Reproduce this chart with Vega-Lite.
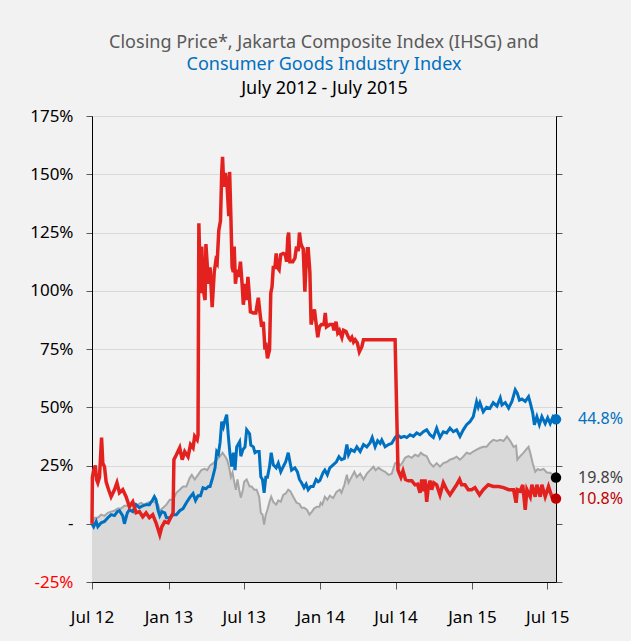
{
  "$schema": "https://vega.github.io/schema/vega-lite/v6.json",
  "width": 464,
  "height": 466,
  "autosize": {"type": "none"},
  "padding": {"left": 92, "top": 116, "right": 75, "bottom": 59},
  "background": "#f2f2f2",
  "title": {
    "text": "Closing Price*, Jakarta Composite Index (IHSG) and",
    "subtitle": "Consumer Goods Industry Index",
    "color": "#595959",
    "subtitleColor": "#0070c0",
    "font": "Noto Sans",
    "subtitleFont": "Noto Sans",
    "fontSize": 18,
    "subtitleFontSize": 18,
    "fontWeight": "normal",
    "anchor": "middle",
    "offset": 5,
    "subtitlePadding": 4.5
  },
  "config": {
    "font": "Noto Sans",
    "view": {"stroke": "#595959", "fill": "#f2f2f2"}
  },
  "datasets": {
    "red": [
      {"date":"2012-07-01","value":0},{"date":"2012-07-02","value":0.20},{"date":"2012-07-05","value":0.23},{"date":"2012-07-09","value":0.25},{"date":"2012-07-12","value":0.19},{"date":"2012-07-15","value":0.176},{"date":"2012-07-19","value":0.20},{"date":"2012-07-24","value":0.37},{"date":"2012-07-27","value":0.26},{"date":"2012-07-31","value":0.245},{"date":"2012-08-04","value":0.18},{"date":"2012-08-10","value":0.146},{"date":"2012-08-16","value":0.116},{"date":"2012-08-24","value":0.146},{"date":"2012-08-30","value":0.176},{"date":"2012-09-05","value":0.133},{"date":"2012-09-13","value":0.146},{"date":"2012-09-21","value":0.116},{"date":"2012-09-29","value":0.073},{"date":"2012-10-07","value":0.094},{"date":"2012-10-15","value":0.047},{"date":"2012-10-23","value":0.052},{"date":"2012-10-31","value":0.03},{"date":"2012-11-08","value":0.047},{"date":"2012-11-16","value":0.026},{"date":"2012-11-24","value":0.039},{"date":"2012-12-02","value":0.004},{"date":"2012-12-11","value":-0.047},{"date":"2012-12-16","value":-0.013},{"date":"2012-12-23","value":0.009},{"date":"2012-12-31","value":0.004},{"date":"2013-01-06","value":0.026},{"date":"2013-01-12","value":0.047},{"date":"2013-01-14","value":0.275},{"date":"2013-01-20","value":0.296},{"date":"2013-01-28","value":0.326},{"date":"2013-02-03","value":0.275},{"date":"2013-02-09","value":0.31},{"date":"2013-02-17","value":0.288},{"date":"2013-02-23","value":0.34},{"date":"2013-03-01","value":0.326},{"date":"2013-03-05","value":0.375},{"date":"2013-03-11","value":0.36},{"date":"2013-03-13","value":0.38},{"date":"2013-03-15","value":1.29},{"date":"2013-03-19","value":0.99},{"date":"2013-03-22","value":1.19},{"date":"2013-03-26","value":1.00},{"date":"2013-03-30","value":0.96},{"date":"2013-04-01","value":1.20},{"date":"2013-04-07","value":1.03},{"date":"2013-04-11","value":1.10},{"date":"2013-04-16","value":0.93},{"date":"2013-04-21","value":1.08},{"date":"2013-04-25","value":1.13},{"date":"2013-04-28","value":1.12},{"date":"2013-05-02","value":1.26},{"date":"2013-05-06","value":1.30},{"date":"2013-05-09","value":1.506},{"date":"2013-05-11","value":1.575},{"date":"2013-05-14","value":1.446},{"date":"2013-05-18","value":1.506},{"date":"2013-05-22","value":1.446},{"date":"2013-05-26","value":1.32},{"date":"2013-05-28","value":1.51},{"date":"2013-05-31","value":1.32},{"date":"2013-06-03","value":1.10},{"date":"2013-06-06","value":1.08},{"date":"2013-06-08","value":1.19},{"date":"2013-06-11","value":1.03},{"date":"2013-06-15","value":1.09},{"date":"2013-06-19","value":1.06},{"date":"2013-06-23","value":1.125},{"date":"2013-06-27","value":1.03},{"date":"2013-06-30","value":0.94},{"date":"2013-07-05","value":1.03},{"date":"2013-07-08","value":0.96},{"date":"2013-07-11","value":1.06},{"date":"2013-07-14","value":0.99},{"date":"2013-07-17","value":0.91},{"date":"2013-07-24","value":0.905},{"date":"2013-07-30","value":0.905},{"date":"2013-08-05","value":0.97},{"date":"2013-08-09","value":0.905},{"date":"2013-08-13","value":0.845},{"date":"2013-08-17","value":0.867},{"date":"2013-08-21","value":0.747},{"date":"2013-08-23","value":0.777},{"date":"2013-08-27","value":0.71},{"date":"2013-09-01","value":0.747},{"date":"2013-09-04","value":0.99},{"date":"2013-09-07","value":1.017},{"date":"2013-09-10","value":1.10},{"date":"2013-09-14","value":1.10},{"date":"2013-09-17","value":1.16},{"date":"2013-09-20","value":1.10},{"date":"2013-09-24","value":1.09},{"date":"2013-09-28","value":1.155},{"date":"2013-10-04","value":1.16},{"date":"2013-10-09","value":1.155},{"date":"2013-10-12","value":1.125},{"date":"2013-10-15","value":1.23},{"date":"2013-10-17","value":1.25},{"date":"2013-10-20","value":1.125},{"date":"2013-10-27","value":1.125},{"date":"2013-11-01","value":1.14},{"date":"2013-11-05","value":1.19},{"date":"2013-11-09","value":1.17},{"date":"2013-11-12","value":1.25},{"date":"2013-11-15","value":1.206},{"date":"2013-11-18","value":1.19},{"date":"2013-11-21","value":1.18},{"date":"2013-11-25","value":0.996},{"date":"2013-11-28","value":1.12},{"date":"2013-12-01","value":1.18},{"date":"2013-12-03","value":1.18},{"date":"2013-12-07","value":1.08},{"date":"2013-12-10","value":0.855},{"date":"2013-12-14","value":0.89},{"date":"2013-12-18","value":0.92},{"date":"2013-12-22","value":0.86},{"date":"2013-12-26","value":0.80},{"date":"2013-12-30","value":0.845},{"date":"2014-01-04","value":0.855},{"date":"2014-01-10","value":0.855},{"date":"2014-01-13","value":0.905},{"date":"2014-01-16","value":0.845},{"date":"2014-01-24","value":0.855},{"date":"2014-01-31","value":0.855},{"date":"2014-02-03","value":0.83},{"date":"2014-02-08","value":0.867},{"date":"2014-02-12","value":0.82},{"date":"2014-02-16","value":0.83},{"date":"2014-02-22","value":0.80},{"date":"2014-02-26","value":0.83},{"date":"2014-03-04","value":0.825},{"date":"2014-03-10","value":0.80},{"date":"2014-03-14","value":0.79},{"date":"2014-03-18","value":0.80},{"date":"2014-03-22","value":0.78},{"date":"2014-03-26","value":0.79},{"date":"2014-03-31","value":0.777},{"date":"2014-04-05","value":0.738},{"date":"2014-04-11","value":0.76},{"date":"2014-04-15","value":0.79},{"date":"2014-06-30","value":0.79},{"date":"2014-07-07","value":0.23},{"date":"2014-07-14","value":0.20},{"date":"2014-07-19","value":0.227},{"date":"2014-07-25","value":0.19},{"date":"2014-08-01","value":0.185},{"date":"2014-08-09","value":0.185},{"date":"2014-08-17","value":0.167},{"date":"2014-08-23","value":0.17},{"date":"2014-08-29","value":0.133},{"date":"2014-09-02","value":0.19},{"date":"2014-09-06","value":0.14},{"date":"2014-09-10","value":0.19},{"date":"2014-09-14","value":0.094},{"date":"2014-09-18","value":0.16},{"date":"2014-09-22","value":0.185},{"date":"2014-09-26","value":0.146},{"date":"2014-10-01","value":0.176},{"date":"2014-10-08","value":0.167},{"date":"2014-10-16","value":0.124},{"date":"2014-10-24","value":0.176},{"date":"2014-11-01","value":0.146},{"date":"2014-11-09","value":0.124},{"date":"2014-11-17","value":0.146},{"date":"2014-11-25","value":0.167},{"date":"2014-12-02","value":0.19},{"date":"2014-12-07","value":0.167},{"date":"2014-12-15","value":0.167},{"date":"2014-12-23","value":0.146},{"date":"2014-12-31","value":0.146},{"date":"2015-01-08","value":0.155},{"date":"2015-01-19","value":0.124},{"date":"2015-01-28","value":0.146},{"date":"2015-02-09","value":0.167},{"date":"2015-02-21","value":0.16},{"date":"2015-03-06","value":0.16},{"date":"2015-03-18","value":0.155},{"date":"2015-03-30","value":0.146},{"date":"2015-04-11","value":0.146},{"date":"2015-04-17","value":0.09},{"date":"2015-04-20","value":0.146},{"date":"2015-04-27","value":0.14},{"date":"2015-05-03","value":0.167},{"date":"2015-05-09","value":0.06},{"date":"2015-05-13","value":0.146},{"date":"2015-05-21","value":0.116},{"date":"2015-05-25","value":0.167},{"date":"2015-06-02","value":0.116},{"date":"2015-06-06","value":0.167},{"date":"2015-06-14","value":0.116},{"date":"2015-06-18","value":0.167},{"date":"2015-06-26","value":0.116},{"date":"2015-07-04","value":0.16},{"date":"2015-07-12","value":0.116},{"date":"2015-07-22","value":0.108}
    ],
    "blue": [
      {"date":"2012-07-01","value":0},{"date":"2012-07-05","value":-0.013},{"date":"2012-07-11","value":0.01},{"date":"2012-07-15","value":-0.013},{"date":"2012-07-23","value":0.004},{"date":"2012-07-31","value":0.01},{"date":"2012-08-08","value":0.026},{"date":"2012-08-16","value":0.039},{"date":"2012-08-24","value":0.035},{"date":"2012-08-31","value":0.052},{"date":"2012-09-05","value":0.056},{"date":"2012-09-13","value":0.034},{"date":"2012-09-17","value":0.0},{"date":"2012-09-24","value":0.047},{"date":"2012-09-29","value":0.06},{"date":"2012-10-07","value":0.052},{"date":"2012-10-15","value":0.082},{"date":"2012-10-23","value":0.069},{"date":"2012-10-31","value":0.077},{"date":"2012-11-08","value":0.082},{"date":"2012-11-16","value":0.082},{"date":"2012-11-24","value":0.103},{"date":"2012-11-28","value":0.116},{"date":"2012-12-02","value":0.103},{"date":"2012-12-07","value":0.056},{"date":"2012-12-11","value":0.034},{"date":"2012-12-16","value":0.052},{"date":"2012-12-23","value":0.047},{"date":"2012-12-27","value":0.026},{"date":"2013-01-04","value":0.026},{"date":"2013-01-12","value":0.039},{"date":"2013-01-20","value":0.039},{"date":"2013-01-28","value":0.056},{"date":"2013-02-05","value":0.065},{"date":"2013-02-13","value":0.09},{"date":"2013-02-21","value":0.112},{"date":"2013-03-01","value":0.13},{"date":"2013-03-07","value":0.10},{"date":"2013-03-13","value":0.12},{"date":"2013-03-19","value":0.12},{"date":"2013-03-25","value":0.155},{"date":"2013-04-01","value":0.15},{"date":"2013-04-07","value":0.16},{"date":"2013-04-11","value":0.16},{"date":"2013-04-17","value":0.197},{"date":"2013-04-23","value":0.24},{"date":"2013-04-27","value":0.31},{"date":"2013-05-01","value":0.30},{"date":"2013-05-05","value":0.348},{"date":"2013-05-09","value":0.438},{"date":"2013-05-13","value":0.416},{"date":"2013-05-17","value":0.446},{"date":"2013-05-21","value":0.468},{"date":"2013-05-25","value":0.375},{"date":"2013-05-29","value":0.296},{"date":"2013-06-02","value":0.245},{"date":"2013-06-06","value":0.305},{"date":"2013-06-10","value":0.23},{"date":"2013-06-14","value":0.33},{"date":"2013-06-21","value":0.352},{"date":"2013-06-24","value":0.29},{"date":"2013-06-29","value":0.318},{"date":"2013-07-04","value":0.33},{"date":"2013-07-08","value":0.403},{"date":"2013-07-15","value":0.386},{"date":"2013-07-18","value":0.337},{"date":"2013-07-24","value":0.33},{"date":"2013-07-28","value":0.305},{"date":"2013-08-02","value":0.31},{"date":"2013-08-07","value":0.31},{"date":"2013-08-11","value":0.202},{"date":"2013-08-15","value":0.19},{"date":"2013-08-19","value":0.133},{"date":"2013-08-23","value":0.20},{"date":"2013-08-27","value":0.20},{"date":"2013-09-01","value":0.245},{"date":"2013-09-05","value":0.305},{"date":"2013-09-10","value":0.253},{"date":"2013-09-17","value":0.24},{"date":"2013-09-22","value":0.26},{"date":"2013-09-28","value":0.223},{"date":"2013-10-04","value":0.245},{"date":"2013-10-10","value":0.266},{"date":"2013-10-16","value":0.305},{"date":"2013-10-20","value":0.266},{"date":"2013-10-24","value":0.23},{"date":"2013-11-01","value":0.24},{"date":"2013-11-07","value":0.223},{"date":"2013-11-12","value":0.19},{"date":"2013-11-17","value":0.176},{"date":"2013-11-23","value":0.155},{"date":"2013-11-28","value":0.17},{"date":"2013-12-03","value":0.146},{"date":"2013-12-09","value":0.16},{"date":"2013-12-15","value":0.16},{"date":"2013-12-22","value":0.19},{"date":"2013-12-27","value":0.18},{"date":"2013-12-31","value":0.185},{"date":"2014-01-08","value":0.22},{"date":"2014-01-12","value":0.23},{"date":"2014-01-18","value":0.21},{"date":"2014-01-24","value":0.24},{"date":"2014-02-01","value":0.253},{"date":"2014-02-09","value":0.266},{"date":"2014-02-15","value":0.288},{"date":"2014-02-21","value":0.275},{"date":"2014-02-28","value":0.28},{"date":"2014-03-06","value":0.34},{"date":"2014-03-10","value":0.296},{"date":"2014-03-16","value":0.318},{"date":"2014-03-24","value":0.31},{"date":"2014-03-30","value":0.33},{"date":"2014-04-07","value":0.31},{"date":"2014-04-15","value":0.34},{"date":"2014-04-23","value":0.33},{"date":"2014-05-01","value":0.348},{"date":"2014-05-06","value":0.37},{"date":"2014-05-13","value":0.33},{"date":"2014-05-19","value":0.356},{"date":"2014-05-25","value":0.345},{"date":"2014-05-29","value":0.36},{"date":"2014-06-06","value":0.33},{"date":"2014-06-14","value":0.34},{"date":"2014-06-22","value":0.345},{"date":"2014-06-30","value":0.37},{"date":"2014-07-06","value":0.382},{"date":"2014-07-14","value":0.37},{"date":"2014-07-22","value":0.375},{"date":"2014-07-28","value":0.37},{"date":"2014-08-05","value":0.382},{"date":"2014-08-13","value":0.375},{"date":"2014-08-21","value":0.39},{"date":"2014-08-29","value":0.382},{"date":"2014-09-06","value":0.395},{"date":"2014-09-14","value":0.403},{"date":"2014-09-22","value":0.382},{"date":"2014-09-30","value":0.37},{"date":"2014-10-08","value":0.41},{"date":"2014-10-16","value":0.37},{"date":"2014-10-24","value":0.395},{"date":"2014-11-01","value":0.39},{"date":"2014-11-09","value":0.41},{"date":"2014-11-17","value":0.395},{"date":"2014-11-25","value":0.403},{"date":"2014-12-03","value":0.375},{"date":"2014-12-11","value":0.403},{"date":"2014-12-19","value":0.425},{"date":"2014-12-27","value":0.438},{"date":"2015-01-04","value":0.46},{"date":"2015-01-12","value":0.524},{"date":"2015-01-16","value":0.50},{"date":"2015-01-20","value":0.52},{"date":"2015-01-28","value":0.48},{"date":"2015-02-05","value":0.50},{"date":"2015-02-13","value":0.495},{"date":"2015-02-21","value":0.52},{"date":"2015-03-02","value":0.505},{"date":"2015-03-10","value":0.54},{"date":"2015-03-14","value":0.51},{"date":"2015-03-22","value":0.52},{"date":"2015-03-30","value":0.496},{"date":"2015-04-07","value":0.525},{"date":"2015-04-15","value":0.575},{"date":"2015-04-20","value":0.56},{"date":"2015-04-25","value":0.53},{"date":"2015-05-01","value":0.535},{"date":"2015-05-09","value":0.525},{"date":"2015-05-17","value":0.545},{"date":"2015-05-21","value":0.52},{"date":"2015-05-27","value":0.476},{"date":"2015-05-31","value":0.425},{"date":"2015-06-06","value":0.46},{"date":"2015-06-12","value":0.425},{"date":"2015-06-18","value":0.46},{"date":"2015-06-26","value":0.43},{"date":"2015-07-02","value":0.455},{"date":"2015-07-08","value":0.43},{"date":"2015-07-15","value":0.46},{"date":"2015-07-22","value":0.448}
    ],
    "gray": [
      {"date":"2012-07-01","value":0},{"date":"2012-07-07","value":0.026},{"date":"2012-07-15","value":0.026},{"date":"2012-07-23","value":0.039},{"date":"2012-07-31","value":0.034},{"date":"2012-08-08","value":0.047},{"date":"2012-08-16","value":0.052},{"date":"2012-08-24","value":0.056},{"date":"2012-09-01","value":0.065},{"date":"2012-09-09","value":0.065},{"date":"2012-09-17","value":0.077},{"date":"2012-09-25","value":0.077},{"date":"2012-10-03","value":0.082},{"date":"2012-10-11","value":0.077},{"date":"2012-10-19","value":0.082},{"date":"2012-10-27","value":0.09},{"date":"2012-11-04","value":0.082},{"date":"2012-11-12","value":0.09},{"date":"2012-11-20","value":0.094},{"date":"2012-11-28","value":0.094},{"date":"2012-12-07","value":0.082},{"date":"2012-12-11","value":0.056},{"date":"2012-12-19","value":0.069},{"date":"2012-12-27","value":0.082},{"date":"2013-01-04","value":0.103},{"date":"2013-01-12","value":0.103},{"date":"2013-01-20","value":0.133},{"date":"2013-01-28","value":0.146},{"date":"2013-02-05","value":0.16},{"date":"2013-02-13","value":0.16},{"date":"2013-02-21","value":0.197},{"date":"2013-02-26","value":0.21},{"date":"2013-03-05","value":0.19},{"date":"2013-03-13","value":0.21},{"date":"2013-03-21","value":0.23},{"date":"2013-03-29","value":0.236},{"date":"2013-04-04","value":0.23},{"date":"2013-04-11","value":0.25},{"date":"2013-04-19","value":0.26},{"date":"2013-04-27","value":0.275},{"date":"2013-05-05","value":0.29},{"date":"2013-05-11","value":0.305},{"date":"2013-05-17","value":0.29},{"date":"2013-05-22","value":0.275},{"date":"2013-05-27","value":0.24},{"date":"2013-05-31","value":0.20},{"date":"2013-06-04","value":0.22},{"date":"2013-06-08","value":0.18},{"date":"2013-06-12","value":0.146},{"date":"2013-06-16","value":0.19},{"date":"2013-06-20","value":0.146},{"date":"2013-06-24","value":0.112},{"date":"2013-06-29","value":0.146},{"date":"2013-07-02","value":0.18},{"date":"2013-07-08","value":0.19},{"date":"2013-07-15","value":0.16},{"date":"2013-07-20","value":0.16},{"date":"2013-07-26","value":0.146},{"date":"2013-08-01","value":0.146},{"date":"2013-08-07","value":0.116},{"date":"2013-08-11","value":0.047},{"date":"2013-08-15","value":0.04},{"date":"2013-08-19","value":-0.004},{"date":"2013-08-23","value":0.04},{"date":"2013-08-27","value":0.06},{"date":"2013-09-01","value":0.094},{"date":"2013-09-05","value":0.116},{"date":"2013-09-10","value":0.094},{"date":"2013-09-17","value":0.082},{"date":"2013-09-22","value":0.10},{"date":"2013-09-28","value":0.094},{"date":"2013-10-04","value":0.124},{"date":"2013-10-10","value":0.13},{"date":"2013-10-16","value":0.146},{"date":"2013-10-21","value":0.14},{"date":"2013-10-28","value":0.116},{"date":"2013-11-05","value":0.09},{"date":"2013-11-12","value":0.085},{"date":"2013-11-17","value":0.069},{"date":"2013-11-23","value":0.069},{"date":"2013-11-30","value":0.06},{"date":"2013-12-06","value":0.039},{"date":"2013-12-12","value":0.052},{"date":"2013-12-17","value":0.065},{"date":"2013-12-24","value":0.073},{"date":"2013-12-30","value":0.073},{"date":"2014-01-02","value":0.09},{"date":"2014-01-06","value":0.082},{"date":"2014-01-12","value":0.116},{"date":"2014-01-18","value":0.103},{"date":"2014-01-24","value":0.12},{"date":"2014-02-01","value":0.11},{"date":"2014-02-09","value":0.137},{"date":"2014-02-17","value":0.146},{"date":"2014-02-21","value":0.133},{"date":"2014-02-28","value":0.167},{"date":"2014-03-06","value":0.21},{"date":"2014-03-10","value":0.176},{"date":"2014-03-16","value":0.197},{"date":"2014-03-24","value":0.223},{"date":"2014-03-30","value":0.20},{"date":"2014-04-07","value":0.215},{"date":"2014-04-15","value":0.19},{"date":"2014-04-23","value":0.215},{"date":"2014-05-01","value":0.23},{"date":"2014-05-09","value":0.245},{"date":"2014-05-14","value":0.23},{"date":"2014-05-21","value":0.24},{"date":"2014-05-29","value":0.23},{"date":"2014-06-06","value":0.223},{"date":"2014-06-14","value":0.21},{"date":"2014-06-22","value":0.215},{"date":"2014-06-30","value":0.26},{"date":"2014-07-06","value":0.266},{"date":"2014-07-12","value":0.25},{"date":"2014-07-17","value":0.26},{"date":"2014-07-24","value":0.283},{"date":"2014-08-01","value":0.29},{"date":"2014-08-09","value":0.283},{"date":"2014-08-17","value":0.296},{"date":"2014-08-25","value":0.29},{"date":"2014-08-31","value":0.305},{"date":"2014-09-06","value":0.296},{"date":"2014-09-14","value":0.29},{"date":"2014-09-22","value":0.26},{"date":"2014-09-30","value":0.245},{"date":"2014-10-08","value":0.26},{"date":"2014-10-16","value":0.245},{"date":"2014-10-24","value":0.26},{"date":"2014-11-01","value":0.265},{"date":"2014-11-09","value":0.275},{"date":"2014-11-17","value":0.28},{"date":"2014-11-25","value":0.288},{"date":"2014-12-03","value":0.275},{"date":"2014-12-11","value":0.288},{"date":"2014-12-19","value":0.305},{"date":"2014-12-27","value":0.30},{"date":"2015-01-04","value":0.31},{"date":"2015-01-12","value":0.318},{"date":"2015-01-20","value":0.325},{"date":"2015-01-28","value":0.33},{"date":"2015-02-05","value":0.33},{"date":"2015-02-13","value":0.348},{"date":"2015-02-21","value":0.36},{"date":"2015-03-02","value":0.355},{"date":"2015-03-10","value":0.36},{"date":"2015-03-18","value":0.355},{"date":"2015-03-26","value":0.375},{"date":"2015-04-03","value":0.355},{"date":"2015-04-11","value":0.33},{"date":"2015-04-17","value":0.335},{"date":"2015-04-20","value":0.275},{"date":"2015-04-27","value":0.29},{"date":"2015-05-05","value":0.305},{"date":"2015-05-11","value":0.318},{"date":"2015-05-17","value":0.33},{"date":"2015-05-21","value":0.305},{"date":"2015-05-27","value":0.26},{"date":"2015-06-02","value":0.223},{"date":"2015-06-08","value":0.235},{"date":"2015-06-14","value":0.23},{"date":"2015-06-22","value":0.235},{"date":"2015-06-30","value":0.22},{"date":"2015-07-08","value":0.219},{"date":"2015-07-15","value":0.21},{"date":"2015-07-22","value":0.198}
    ],
    "ends": [
      {"series":"Consumer Goods Industry Index","date":"2015-07-22","value":0.448},
      {"series":"Jakarta Composite Index (IHSG)","date":"2015-07-22","value":0.198},
      {"series":"Closing Price","date":"2015-07-22","value":0.108}
    ]
  },
  "layer": [
    {
      "data": {"name": "gray"},
      "mark": {"type": "area", "color": "#d9d9d9", "opacity": 1},
      "encoding": {
        "x": {
          "field": "date", "type": "temporal",
          "scale": {"domain": [{"year": 2012, "month": 7, "date": 1}, {"year": 2015, "month": 7, "date": 22}]},
          "axis": {
            "values": [{"year": 2012, "month": 7, "date": 1}, {"year": 2013, "month": 1, "date": 1}, {"year": 2013, "month": 7, "date": 1}, {"year": 2014, "month": 1, "date": 1}, {"year": 2014, "month": 7, "date": 1}, {"year": 2015, "month": 1, "date": 1}, {"year": 2015, "month": 7, "date": 1}],
            "format": "%b %y", "title": null, "grid": false,
            "labelFontSize": 17, "labelColor": "#000000", "labelFlush": false, "labelOverlap": false,
            "tickSize": 7, "tickColor": "#595959", "domainColor": "#000000", "labelPadding": 20
          }
        },
        "y": {
          "field": "value", "type": "quantitative",
          "scale": {"domain": [-0.25, 1.75], "nice": false, "zero": false},
          "axis": {
            "values": [-0.25, 0, 0.25, 0.5, 0.75, 1, 1.25, 1.5, 1.75],
            "labelExpr": "datum.value === 0 ? '-' : (datum.value < 0 ? '-' + format(-datum.value, '.0%') : format(datum.value, '.0%'))",
            "labelColor": {"condition": {"test": "datum.value < 0", "value": "#ff0000"}, "value": "#000000"},
            "title": null, "grid": true, "gridColor": "#d9d9d9",
            "labelFontSize": 17, "tickSize": 6, "tickColor": "#595959", "domainColor": "#000000", "labelPadding": 13
          }
        },
        "y2": {"datum": -0.25}
      }
    },
    {
      "data": {"name": "gray"},
      "mark": {"type": "line", "color": "#a6a6a6", "strokeWidth": 2},
      "encoding": {
        "x": {"field": "date", "type": "temporal", "axis": null},
        "y": {"field": "value", "type": "quantitative", "axis": null}
      }
    },
    {
      "data": {"name": "blue"},
      "mark": {"type": "line", "color": "#0070c0", "strokeWidth": 3},
      "encoding": {
        "x": {"field": "date", "type": "temporal", "axis": null},
        "y": {"field": "value", "type": "quantitative", "axis": null}
      }
    },
    {
      "data": {"name": "red"},
      "mark": {"type": "line", "color": "#e3221f", "strokeWidth": 3.5},
      "encoding": {
        "x": {
          "field": "date", "type": "temporal",
          "axis": {
            "orient": "top", "labels": false, "ticks": false, "domain": false, "grid": false,
            "title": "July 2012 - July 2015", "titleFontSize": 18, "titleFontWeight": "normal",
            "titleColor": "#000000", "titlePadding": 19
          }
        },
        "y": {
          "field": "value", "type": "quantitative",
          "axis": {
            "orient": "right", "labels": false, "title": null, "grid": false,
            "values": [-0.25, 0, 0.25, 0.5, 0.75, 1, 1.25, 1.5, 1.75],
            "tickSize": 6, "tickColor": "#595959", "domainColor": "#000000"
          }
        }
      }
    },
    {
      "data": {"name": "ends"},
      "mark": {"type": "point", "filled": true, "size": 110, "opacity": 1},
      "encoding": {
        "x": {"field": "date", "type": "temporal", "axis": null},
        "y": {"field": "value", "type": "quantitative", "axis": null},
        "color": {
          "field": "series", "type": "nominal", "legend": null,
          "scale": {"domain": ["Consumer Goods Industry Index", "Jakarta Composite Index (IHSG)", "Closing Price"], "range": ["#0070c0", "#000000", "#c00000"]}
        }
      }
    },
    {
      "data": {"name": "ends"},
      "mark": {"type": "text", "align": "left", "baseline": "middle", "dx": 22, "fontSize": 16},
      "encoding": {
        "x": {"field": "date", "type": "temporal", "axis": null},
        "y": {"field": "value", "type": "quantitative", "axis": null},
        "text": {"field": "value", "type": "quantitative", "format": ".1%"},
        "color": {
          "field": "series", "type": "nominal", "legend": null,
          "scale": {"domain": ["Consumer Goods Industry Index", "Jakarta Composite Index (IHSG)", "Closing Price"], "range": ["#0070c0", "#404040", "#c00000"]}
        }
      }
    }
  ],
  "resolve": {"axis": {"x": "independent", "y": "independent"}, "scale": {"color": "independent"}}
}
